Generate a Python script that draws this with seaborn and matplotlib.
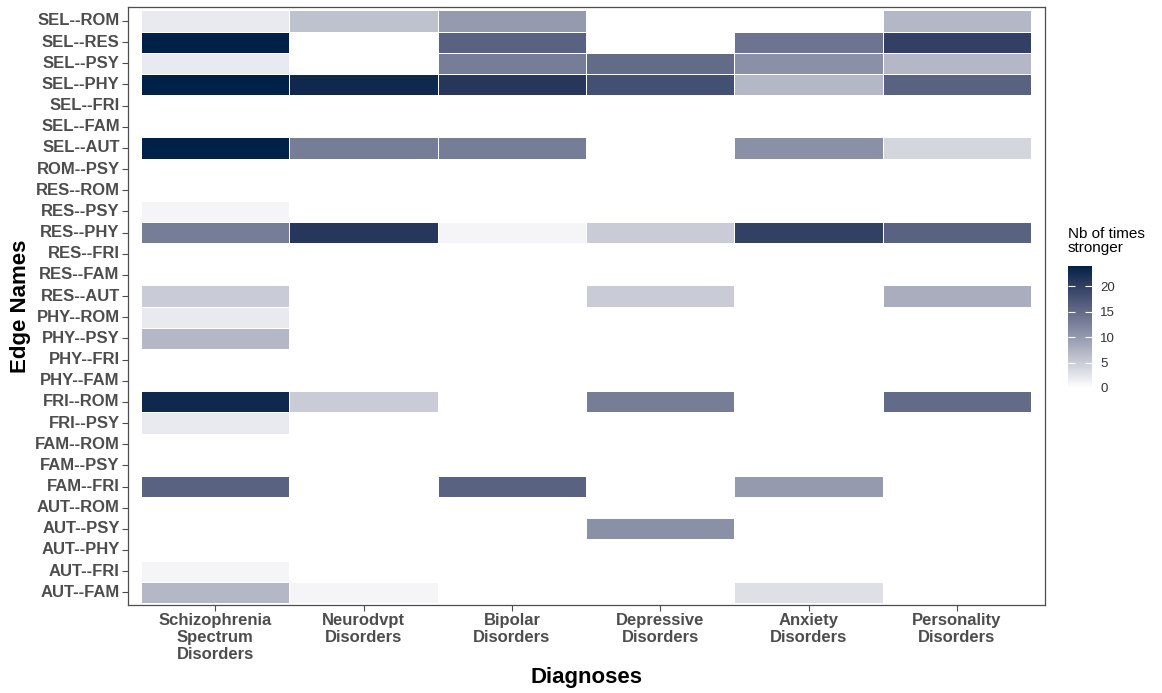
import numpy as np
import pandas as pd
import matplotlib
matplotlib.use("Agg")
import matplotlib.pyplot as plt
from matplotlib.colors import ListedColormap, to_rgb
import seaborn as sns

edges = ["SEL--ROM", "SEL--RES", "SEL--PSY", "SEL--PHY", "SEL--FRI", "SEL--FAM",
         "SEL--AUT", "ROM--PSY", "RES--ROM", "RES--PSY", "RES--PHY", "RES--FRI",
         "RES--FAM", "RES--AUT", "PHY--ROM", "PHY--PSY", "PHY--FRI", "PHY--FAM",
         "FRI--ROM", "FRI--PSY", "FAM--ROM", "FAM--PSY", "FAM--FRI", "AUT--ROM",
         "AUT--PSY", "AUT--PHY", "AUT--FRI", "AUT--FAM"]
diagnoses = ["Schizophrenia\nSpectrum\nDisorders", "Neurodvpt\nDisorders",
             "Bipolar\nDisorders", "Depressive\nDisorders", "Anxiety\nDisorders",
             "Personality\nDisorders"]

schizophrenia = [2, 24, 2, 24, 0, 0, 24, 0, 0, 1, 13, 0, 0, 5, 2, 7, 0, 0, 23, 2, 0, 0, 16, 0, 0, 0, 1, 7]
neurodvpt     = [6, 0, 0, 23, 0, 0, 13, 0, 0, 0, 21, 0, 0, 0, 0, 0, 0, 0, 5, 0, 0, 0, 0, 0, 0, 0, 0, 1]
bipolar       = [10, 16, 13, 21, 0, 0, 13, 0, 0, 0, 1, 0, 0, 0, 0, 0, 0, 0, 0, 0, 0, 0, 16, 0, 0, 0, 0, 0]
depressive    = [0, 0, 15, 18, 0, 0, 0, 0, 0, 0, 5, 0, 0, 5, 0, 0, 0, 0, 13, 0, 0, 0, 0, 0, 11, 0, 0, 0]
anxiety       = [0, 14, 11, 7, 0, 0, 11, 0, 0, 0, 20, 0, 0, 0, 0, 0, 0, 0, 0, 0, 0, 0, 10, 0, 0, 0, 0, 3]
personality   = [7, 20, 7, 16, 0, 0, 4, 0, 0, 0, 16, 0, 0, 8, 0, 0, 0, 0, 15, 0, 0, 0, 0, 0, 0, 0, 0, 0]

cbar_ticks = [0, 5, 10, 15, 20]

df = pd.DataFrame({
    diagnoses[0]: schizophrenia, diagnoses[1]: neurodvpt, diagnoses[2]: bipolar,
    diagnoses[3]: depressive, diagnoses[4]: anxiety, diagnoses[5]: personality,
}, index=edges)

plt.rcParams['font.family'] = ['Liberation Sans', 'DejaVu Sans']


# --- colour gradient interpolated in CIE Lab (like ggplot's scale_fill_gradient) ---
_M = np.array([[0.4124, 0.3576, 0.1805], [0.2126, 0.7152, 0.0722], [0.0193, 0.1192, 0.9505]])
_WP = np.array([0.95047, 1.0, 1.08883])


def _to_lab(rgb):
    c = np.asarray(rgb, float)
    lin = np.where(c <= 0.04045, c / 12.92, ((c + 0.055) / 1.055) ** 2.4)
    xyz = _M @ lin / _WP
    f = np.where(xyz > (6 / 29) ** 3, np.cbrt(xyz), xyz / (3 * (6 / 29) ** 2) + 4 / 29)
    return np.array([116 * f[1] - 16, 500 * (f[0] - f[1]), 200 * (f[1] - f[2])])


def _from_lab(lab):
    L, a, b = lab
    fy = (L + 16) / 116
    fx = fy + a / 500
    fz = fy - b / 200
    f = np.array([fx, fy, fz])
    xyz = np.where(f > 6 / 29, f ** 3, 3 * (6 / 29) ** 2 * (f - 4 / 29)) * _WP
    lin = np.linalg.solve(_M, xyz)
    lin = np.clip(lin, 0, 1)
    c = np.where(lin <= 0.0031308, 12.92 * lin, 1.055 * lin ** (1 / 2.4) - 0.055)
    return np.clip(c, 0, 1)


lo, hi = _to_lab(to_rgb("#FFFFFF")), _to_lab(to_rgb("#002147"))
cmap = ListedColormap([_from_lab(lo + (hi - lo) * t) for t in np.linspace(0, 1, 256)])

fig = plt.figure(figsize=(11.62, 6.93), dpi=100)
ax = fig.add_axes([128/1162, 1 - 605/693, (1045-128)/1162, (605-7)/693])
cax = fig.add_axes([1068/1162, 1 - 388/693, 24/1162, 122/693])

sns.heatmap(df, ax=ax, cmap=cmap, vmin=0, vmax=24, linewidths=0.4, linecolor="white",
            cbar=True, cbar_ax=cax, cbar_kws={"ticks": cbar_ticks})

ax.set_xlim(-0.088, 6.094)
ax.set_ylim(28.1, -0.16)
for s in ax.spines.values():
    s.set_visible(True)
    s.set_color("#4D4D4D")
    s.set_linewidth(0.9)

ax.tick_params(axis="both", length=4, width=0.8, color="#4D4D4D", pad=2)
ax.set_yticklabels(edges, rotation=0, fontsize=12, fontweight="bold", color="#4D4D4D")
ax.set_xticklabels(diagnoses, rotation=0, fontsize=12, fontweight="bold", color="#4D4D4D",
                   linespacing=1.15, va="top")
ax.set_xlabel("Diagnoses", fontsize=16, fontweight="bold", va="center")
ax.set_ylabel("Edge Names", fontsize=16, fontweight="bold", va="center")
ax.xaxis.set_label_coords(0.5, (605 - 678) / 598)
ax.yaxis.set_label_coords((21 - 128) / 917, 0.5)

cax.yaxis.set_ticks_position("both")
cax.tick_params(axis="y", which="both", direction="in", color="white", length=5, width=0.8,
                labelsize=9.5, labelcolor="#333333", pad=6, labelleft=False, labelright=True)
for s in cax.spines.values():
    s.set_visible(False)
fig.text(1068/1162, 1 - 227/693, "Nb of times\nstronger", fontsize=11, va="top", ha="left",
         linespacing=1.0)

fig.savefig("out.png", dpi=100)
